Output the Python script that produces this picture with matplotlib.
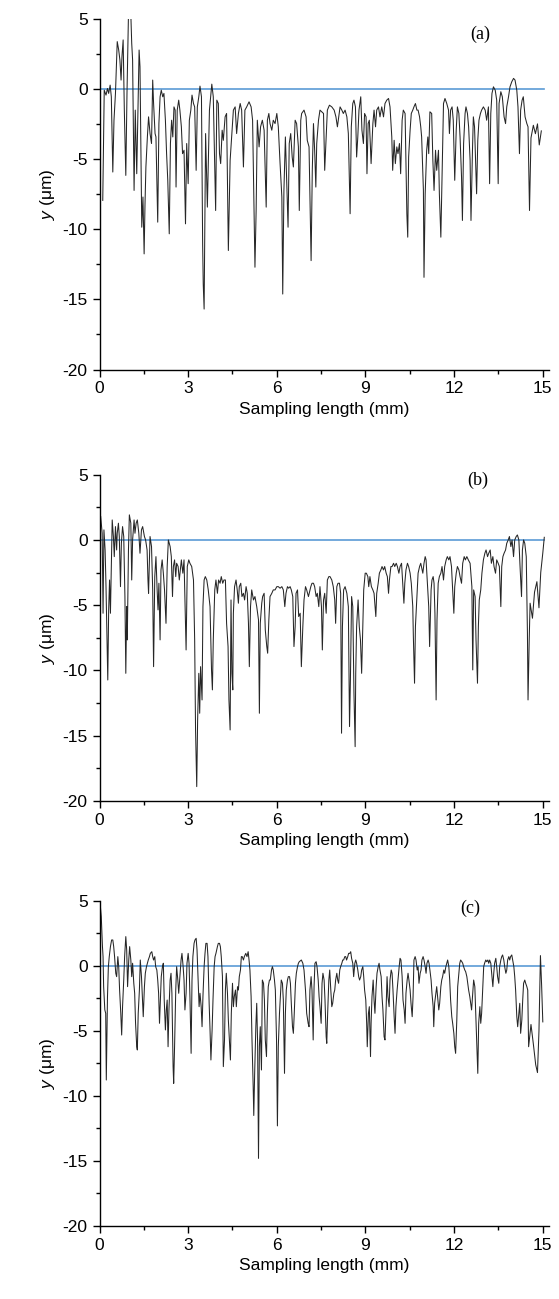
import matplotlib
matplotlib.use('Agg')
import matplotlib.pyplot as plt
import numpy as np
from matplotlib.ticker import MultipleLocator

plt.rcParams['font.family'] = ['Liberation Sans', 'DejaVu Sans']
plt.rcParams['mathtext.fontset'] = 'custom'
plt.rcParams['mathtext.it'] = 'Liberation Sans:italic'
plt.rcParams['mathtext.rm'] = 'Liberation Sans'
plt.rcParams['axes.unicode_minus'] = False

# profile (a): (sampling length mm, height um)
prof_a = [
    (0.11, -7.95), (0.16, -0.10), (0.22, -0.45), (0.27, 0.02), (0.31, -0.33), (0.36, 0.26), (0.40, -0.57),
    (0.45, -5.93), (0.49, -2.24), (0.54, -0.33), (0.60, 3.36), (0.65, 2.76), (0.69, 2.05), (0.73, 0.62),
    (0.76, 2.29), (0.80, 3.48), (0.84, -1.52), (0.89, -6.17), (0.93, -0.33), (0.98, 5.3), (1.02, 5.3),
    (1.06, 5.3), (1.09, 3.24), (1.12, 2.05), (1.17, -7.24), (1.21, -1.52), (1.26, -6.05), (1.34, 2.76),
    (1.37, 1.57), (1.43, -9.86), (1.47, -7.71), (1.51, -11.76), (1.54, -8.19), (1.57, -5.57), (1.62, -3.43),
    (1.66, -2.00), (1.71, -3.19), (1.76, -3.90), (1.80, 0.62), (1.83, -1.05), (1.88, -3.19), (1.91, -3.43),
    (1.97, -9.50), (2.01, -2.48), (2.05, -0.57), (2.09, -0.10), (2.14, -0.57), (2.18, -0.33), (2.23, -2.24),
    (2.27, -4.62), (2.31, -6.52), (2.36, -10.33), (2.40, -3.90), (2.44, -2.24), (2.48, -3.43), (2.52, -1.29),
    (2.56, -1.52), (2.59, -7.00), (2.63, -1.52), (2.68, -0.81), (2.72, -1.52), (2.77, -2.71), (2.81, -4.62),
    (2.86, -4.38), (2.91, -9.62), (2.95, -3.90), (3.00, -6.76), (3.04, -2.24), (3.09, -1.52), (3.13, -0.45),
    (3.18, -1.05), (3.22, -1.29), (3.27, -5.81), (3.31, -1.29), (3.36, -0.57), (3.40, 0.19), (3.45, -0.57),
    (3.49, -11.05), (3.51, -13.90), (3.54, -15.69), (3.59, -3.19), (3.65, -8.43), (3.72, -1.52), (3.80, 0.33),
    (3.85, -0.57), (3.93, -8.67), (3.97, -0.81), (4.02, -1.05), (4.06, -4.62), (4.10, -5.33), (4.15, -2.95),
    (4.19, -3.67), (4.25, -2.00), (4.30, -1.76), (4.36, -11.52), (4.42, -5.10), (4.47, -3.43), (4.53, -1.52),
    (4.59, -1.29), (4.64, -3.19), (4.70, -1.76), (4.76, -1.05), (4.81, -1.52), (4.87, -5.57), (4.92, -1.52),
    (4.98, -1.29), (5.06, -0.93), (5.13, -1.29), (5.18, -2.24), (5.23, -8.67), (5.26, -12.71), (5.30, -8.67),
    (5.34, -2.24), (5.40, -4.14), (5.45, -2.71), (5.51, -2.24), (5.57, -2.95), (5.64, -8.43), (5.68, -2.24),
    (5.73, -1.76), (5.77, -2.48), (5.83, -2.95), (5.88, -2.24), (5.94, -2.48), (6.00, -1.76), (6.05, -2.71),
    (6.11, -5.33), (6.17, -7.71), (6.20, -14.62), (6.24, -7.24), (6.29, -3.43), (6.33, -6.29), (6.38, -9.86),
    (6.42, -3.90), (6.47, -3.19), (6.52, -4.86), (6.56, -5.57), (6.62, -2.24), (6.67, -2.48), (6.73, -4.14),
    (6.76, -8.67), (6.81, -2.24), (6.84, -1.76), (6.92, -1.52), (6.99, -2.00), (7.03, -3.67), (7.09, -4.14),
    (7.16, -12.24), (7.20, -5.81), (7.24, -2.48), (7.28, -4.38), (7.32, -7.00), (7.35, -3.90), (7.41, -2.24),
    (7.46, -1.52), (7.52, -1.64), (7.58, -1.76), (7.62, -5.81), (7.67, -3.43), (7.71, -1.52), (7.78, -1.17),
    (7.86, -1.29), (7.94, -1.52), (8.00, -2.00), (8.05, -2.71), (8.08, -2.24), (8.14, -1.29), (8.20, -1.52),
    (8.25, -1.76), (8.31, -1.52), (8.37, -2.00), (8.42, -3.19), (8.48, -8.90), (8.52, -2.71), (8.57, -1.05),
    (8.61, -0.81), (8.66, -1.29), (8.70, -4.86), (8.74, -3.43), (8.78, -1.52), (8.84, -0.57), (8.88, -2.95),
    (8.93, -3.90), (8.97, -1.76), (9.02, -2.00), (9.05, -6.05), (9.09, -2.48), (9.13, -2.24), (9.19, -5.33),
    (9.25, -2.48), (9.29, -1.52), (9.34, -2.71), (9.38, -1.52), (9.44, -1.29), (9.49, -2.00), (9.55, -1.29),
    (9.61, -2.00), (9.66, -1.05), (9.72, -0.81), (9.78, -0.69), (9.83, -1.29), (9.89, -3.43), (9.92, -5.81),
    (9.97, -3.67), (10.01, -5.33), (10.06, -4.14), (10.10, -4.62), (10.15, -3.90), (10.19, -6.05),
    (10.24, -2.24), (10.28, -1.52), (10.34, -1.76), (10.40, -8.90), (10.43, -10.57), (10.46, -4.86),
    (10.51, -2.95), (10.55, -1.76), (10.60, -1.52), (10.64, -1.29), (10.69, -1.05), (10.74, -1.52),
    (10.78, -1.52), (10.83, -2.00), (10.87, -2.71), (10.90, -3.43), (10.96, -7.24), (10.98, -13.43),
    (11.02, -7.48), (11.07, -4.38), (11.11, -3.43), (11.14, -4.62), (11.18, -1.64), (11.24, -1.76),
    (11.28, -5.10), (11.32, -7.24), (11.37, -4.38), (11.41, -5.81), (11.47, -4.38), (11.50, -7.48),
    (11.55, -10.57), (11.59, -6.29), (11.64, -1.05), (11.69, -0.69), (11.75, -1.05), (11.81, -1.52),
    (11.84, -3.19), (11.88, -1.52), (11.93, -1.29), (11.97, -2.24), (12.02, -6.52), (12.07, -2.95),
    (12.11, -1.29), (12.16, -1.76), (12.20, -3.43), (12.25, -6.29), (12.28, -9.38), (12.32, -3.90),
    (12.37, -1.76), (12.40, -1.29), (12.45, -1.76), (12.49, -2.71), (12.54, -5.10), (12.57, -9.38),
    (12.62, -4.38), (12.65, -2.00), (12.69, -2.71), (12.73, -5.57), (12.76, -7.48), (12.80, -3.67),
    (12.84, -2.24), (12.89, -1.76), (12.93, -1.52), (12.99, -1.29), (13.05, -1.52), (13.10, -2.24),
    (13.16, -1.29), (13.20, -6.76), (13.24, -1.76), (13.28, -0.33), (13.33, 0.14), (13.39, -0.10),
    (13.44, -0.81), (13.49, -6.76), (13.52, -1.05), (13.58, -0.21), (13.63, -0.57), (13.69, -2.00),
    (13.74, -2.48), (13.78, -1.29), (13.84, -0.57), (13.89, 0.14), (13.95, 0.50), (14.01, 0.74),
    (14.06, 0.62), (14.12, -0.10), (14.16, -1.29), (14.21, -4.62), (14.25, -1.52), (14.30, -0.81),
    (14.34, -0.57), (14.40, -2.00), (14.46, -2.48), (14.50, -2.71), (14.55, -8.67), (14.60, -3.5),
    (14.68, -2.6), (14.75, -3.2), (14.82, -2.5), (14.88, -4.0), (14.95, -3.0),
]

# profile (b)
prof_b = [
    (0.04, 1.79), (0.09, 0.51), (0.12, -5.62), (0.15, 0.77), (0.19, -0.77), (0.22, -3.58), (0.28, -10.73),
    (0.31, -5.36), (0.34, -3.07), (0.37, -5.62), (0.40, -2.04), (0.43, 1.53), (0.47, 0.26), (0.50, -1.28),
    (0.54, 1.02), (0.58, -0.77), (0.60, 0.51), (0.64, 1.28), (0.67, 0.26), (0.71, -3.58), (0.74, -0.26),
    (0.78, 1.02), (0.82, 0.26), (0.86, -4.34), (0.89, -10.22), (0.92, -5.11), (0.94, -7.66), (0.98, -0.77),
    (1.01, 1.92), (1.06, 1.28), (1.09, -3.07), (1.12, 0.00), (1.17, 1.53), (1.20, 0.51), (1.24, 1.28),
    (1.28, 1.53), (1.33, 0.51), (1.37, -1.02), (1.42, 0.77), (1.46, 1.02), (1.52, 0.26), (1.56, 0.00),
    (1.61, -0.77), (1.64, -3.07), (1.66, -4.09), (1.71, 0.26), (1.76, -0.51), (1.80, -3.83), (1.83, -9.71),
    (1.87, -2.81), (1.91, -1.28), (1.95, -3.83), (1.98, -5.36), (2.01, -3.32), (2.05, -7.66), (2.08, -2.30),
    (2.12, -1.53), (2.16, -2.55), (2.20, -3.83), (2.25, -6.39), (2.29, -2.04), (2.33, 0.00), (2.39, -0.51),
    (2.43, -1.28), (2.47, -4.34), (2.50, -2.04), (2.54, -1.53), (2.58, -2.81), (2.61, -1.79), (2.66, -2.04),
    (2.70, -3.07), (2.77, -1.53), (2.82, -2.55), (2.86, -1.53), (2.89, -4.34), (2.93, -8.43), (2.97, -2.04),
    (3.02, -1.53), (3.06, -1.79), (3.12, -2.04), (3.18, -3.07), (3.22, -7.66), (3.25, -14.56), (3.29, -18.90),
    (3.32, -13.79), (3.36, -10.22), (3.39, -13.28), (3.42, -9.71), (3.47, -12.26), (3.50, -5.11), (3.54, -3.07),
    (3.58, -2.81), (3.63, -3.07), (3.68, -3.83), (3.74, -5.11), (3.79, -9.96), (3.82, -11.49), (3.85, -7.66),
    (3.90, -3.83), (3.94, -3.07), (3.99, -4.09), (4.03, -3.07), (4.08, -3.32), (4.12, -2.81), (4.17, -3.32),
    (4.21, -3.07), (4.26, -3.07), (4.30, -6.39), (4.35, -8.17), (4.38, -12.26), (4.42, -14.56), (4.45, -4.60),
    (4.48, -10.22), (4.51, -11.49), (4.53, -5.62), (4.57, -3.58), (4.62, -3.07), (4.66, -3.83), (4.70, -4.85),
    (4.73, -3.58), (4.78, -3.32), (4.82, -4.34), (4.87, -4.09), (4.91, -4.60), (4.96, -3.58), (5.00, -4.09),
    (5.04, -6.39), (5.07, -9.71), (5.11, -5.11), (5.15, -3.83), (5.21, -4.60), (5.26, -4.34), (5.32, -5.11),
    (5.38, -6.13), (5.41, -13.28), (5.44, -6.39), (5.49, -4.85), (5.52, -4.34), (5.57, -4.09), (5.61, -6.90),
    (5.66, -8.17), (5.69, -8.68), (5.73, -6.13), (5.77, -4.34), (5.83, -4.09), (5.88, -3.83), (5.94, -3.83),
    (6.00, -3.58), (6.05, -3.58), (6.11, -3.70), (6.17, -3.58), (6.22, -3.83), (6.27, -5.11), (6.31, -4.09),
    (6.36, -3.58), (6.40, -3.70), (6.45, -3.58), (6.49, -3.83), (6.54, -4.34), (6.58, -8.17), (6.62, -6.64),
    (6.65, -4.09), (6.70, -3.83), (6.74, -5.87), (6.79, -5.62), (6.83, -9.71), (6.88, -6.64), (6.92, -4.60),
    (6.97, -3.58), (7.01, -3.83), (7.07, -4.34), (7.15, -3.58), (7.19, -3.32), (7.24, -3.32), (7.28, -3.58),
    (7.33, -4.34), (7.37, -4.09), (7.42, -5.11), (7.46, -3.58), (7.51, -5.11), (7.54, -8.43), (7.58, -4.60),
    (7.62, -4.09), (7.67, -5.62), (7.71, -3.07), (7.76, -2.81), (7.80, -2.81), (7.86, -3.07), (7.91, -3.58),
    (7.96, -4.60), (7.99, -6.39), (8.03, -3.58), (8.07, -3.32), (8.12, -3.32), (8.16, -4.09), (8.19, -14.81),
    (8.22, -6.64), (8.26, -3.83), (8.31, -3.58), (8.37, -4.09), (8.42, -5.11), (8.46, -14.30), (8.49, -10.73),
    (8.53, -4.34), (8.57, -5.11), (8.61, -11.75), (8.65, -15.84), (8.67, -10.22), (8.70, -6.64), (8.75, -4.60),
    (8.79, -6.64), (8.83, -7.66), (8.87, -10.22), (8.91, -6.39), (8.94, -3.83), (8.99, -2.55), (9.03, -2.55),
    (9.08, -2.81), (9.11, -3.58), (9.15, -2.81), (9.20, -3.58), (9.25, -3.83), (9.29, -4.09), (9.35, -5.87),
    (9.38, -4.09), (9.43, -3.32), (9.47, -2.55), (9.52, -2.30), (9.56, -2.04), (9.61, -2.30), (9.65, -2.04),
    (9.70, -2.55), (9.74, -2.81), (9.78, -4.09), (9.81, -3.07), (9.86, -2.04), (9.90, -2.04), (9.95, -1.79),
    (9.99, -2.04), (10.04, -1.79), (10.08, -2.04), (10.13, -2.55), (10.17, -2.04), (10.22, -1.79),
    (10.26, -3.32), (10.30, -4.85), (10.33, -3.32), (10.37, -2.30), (10.42, -1.79), (10.46, -2.04),
    (10.51, -2.55), (10.55, -3.32), (10.60, -5.11), (10.62, -7.41), (10.66, -10.98), (10.69, -6.64),
    (10.74, -4.34), (10.78, -2.55), (10.83, -2.04), (10.87, -1.79), (10.94, -2.55), (10.98, -1.79),
    (11.02, -1.28), (11.05, -1.53), (11.09, -3.07), (11.14, -5.11), (11.17, -8.17), (11.22, -3.83),
    (11.25, -3.07), (11.29, -2.81), (11.32, -3.32), (11.35, -5.62), (11.39, -12.26), (11.42, -6.13),
    (11.46, -3.32), (11.50, -2.81), (11.55, -2.55), (11.59, -2.04), (11.64, -3.07), (11.68, -2.04),
    (11.73, -1.53), (11.77, -1.28), (11.82, -1.53), (11.86, -1.28), (11.91, -2.04), (11.95, -3.83),
    (11.99, -5.62), (12.02, -3.58), (12.07, -2.55), (12.11, -2.04), (12.16, -2.30), (12.20, -2.81),
    (12.25, -3.32), (12.29, -1.79), (12.34, -1.28), (12.38, -1.53), (12.43, -1.28), (12.48, -1.53),
    (12.54, -1.79), (12.60, -3.58), (12.63, -9.96), (12.66, -3.83), (12.71, -4.34), (12.74, -7.66),
    (12.79, -10.98), (12.82, -6.64), (12.85, -4.60), (12.90, -3.83), (12.94, -2.55), (12.99, -1.53),
    (13.04, -1.02), (13.08, -0.77), (13.13, -1.28), (13.17, -1.02), (13.22, -0.77), (13.26, -1.79),
    (13.31, -1.28), (13.35, -2.04), (13.40, -2.55), (13.44, -1.53), (13.49, -1.79), (13.53, -2.04),
    (13.58, -5.11), (13.61, -2.04), (13.65, -1.28), (13.69, -1.02), (13.74, -0.77), (13.78, -0.26),
    (13.83, 0.00), (13.87, 0.26), (13.92, -0.51), (13.96, 0.00), (14.01, -1.28), (14.05, 0.00),
    (14.10, 0.26), (14.14, 0.38), (14.19, 0.00), (14.23, -2.04), (14.28, -4.34), (14.31, -0.77),
    (14.35, 0.00), (14.39, -0.26), (14.44, -1.28), (14.48, -7.15), (14.50, -12.26), (14.54, -7.66),
    (14.57, -4.85), (14.65, -6.0), (14.72, -4.0), (14.80, -3.2), (14.87, -5.2), (14.93, -2.5),
    (15.00, -1.0), (15.05, 0.2),
]

# profile (c)
prof_c = [
    (0.03, 4.56), (0.06, 3.79), (0.10, 1.49), (0.12, 0.72), (0.14, -1.59), (0.18, -3.38), (0.21, -3.64),
    (0.23, -8.77), (0.27, -2.36), (0.30, -0.05), (0.33, 0.72), (0.37, 1.49), (0.41, 2.00), (0.45, 2.00),
    (0.48, 1.49), (0.51, 0.72), (0.55, -0.56), (0.58, -0.82), (0.62, 0.72), (0.65, -0.05), (0.68, -1.85),
    (0.72, -3.64), (0.75, -5.31), (0.78, -3.13), (0.82, -1.08), (0.85, 0.72), (0.89, 2.26), (0.92, 1.23),
    (0.95, -1.59), (0.99, 0.46), (1.02, 1.49), (1.06, 0.46), (1.09, -0.82), (1.12, 0.21), (1.16, -1.33),
    (1.19, -2.10), (1.22, -4.41), (1.26, -6.21), (1.28, -6.46), (1.31, -3.64), (1.35, -1.85), (1.38, 0.46),
    (1.42, -0.82), (1.45, -2.36), (1.48, -3.90), (1.52, -1.59), (1.55, -0.56), (1.59, -0.05), (1.62, 0.21),
    (1.65, 0.46), (1.69, 0.72), (1.72, 0.97), (1.77, 1.10), (1.80, 0.72), (1.83, 0.46), (1.87, 0.72),
    (1.90, -0.05), (1.94, -0.31), (1.97, -1.08), (2.00, -2.10), (2.03, -4.41), (2.06, -2.62), (2.09, -0.82),
    (2.13, -0.05), (2.16, 0.21), (2.19, -2.62), (2.23, -4.92), (2.26, -3.38), (2.29, -2.62), (2.32, -6.21),
    (2.35, -3.38), (2.39, -1.08), (2.42, -0.56), (2.45, -2.10), (2.49, -7.74), (2.51, -9.03), (2.54, -6.21),
    (2.58, -1.85), (2.61, -0.05), (2.65, -1.08), (2.68, -2.10), (2.76, 0.46), (2.79, 0.97), (2.83, -0.05),
    (2.86, -1.08), (2.89, -3.38), (2.93, -2.10), (2.96, 0.21), (3.00, 0.97), (3.03, 0.21), (3.06, -2.36),
    (3.10, -6.72), (3.13, -1.08), (3.16, 0.72), (3.20, 1.74), (3.23, 2.00), (3.27, 2.13), (3.30, 1.23),
    (3.33, -0.56), (3.37, -3.13), (3.40, -2.10), (3.44, -3.13), (3.47, -4.67), (3.50, -2.36), (3.54, -0.05),
    (3.57, 0.97), (3.60, 1.74), (3.64, 1.74), (3.67, 0.72), (3.71, -2.87), (3.74, -4.92), (3.77, -7.23),
    (3.81, -4.92), (3.84, -2.62), (3.88, -0.05), (3.91, 0.72), (3.94, 0.97), (3.99, 1.49), (4.02, 1.74),
    (4.06, 1.74), (4.09, 1.49), (4.12, 0.72), (4.16, -0.82), (4.19, -7.74), (4.23, -5.69), (4.26, -1.85),
    (4.29, -0.56), (4.33, -2.10), (4.36, -4.15), (4.39, -5.44), (4.43, -7.23), (4.46, -3.64), (4.50, -1.33),
    (4.53, -3.13), (4.56, -2.36), (4.60, -1.85), (4.63, -3.13), (4.67, -1.59), (4.70, -1.85), (4.73, -0.82),
    (4.77, -0.31), (4.80, 0.72), (4.83, 0.72), (4.87, 0.46), (4.90, 0.72), (4.95, 0.97), (4.99, 0.72),
    (5.03, 1.10), (5.06, 0.46), (5.09, -0.31), (5.13, -2.36), (5.16, -5.69), (5.20, -9.28), (5.22, -11.5),
    (5.25, -8.26), (5.29, -4.67), (5.32, -2.87), (5.35, -5.95), (5.38, -14.8), (5.41, -6.21), (5.44, -4.67),
    (5.48, -8.00), (5.51, -1.08), (5.55, -1.33), (5.58, -2.62), (5.61, -5.69), (5.65, -6.97), (5.68, -3.64),
    (5.71, -1.59), (5.75, -1.08), (5.78, -1.08), (5.82, -0.31), (5.85, -0.05), (5.88, -0.31), (5.92, -1.08),
    (5.95, -1.85), (5.99, -5.69), (6.02, -12.3), (6.05, -6.21), (6.09, -3.64), (6.12, -2.36), (6.15, -1.08),
    (6.19, -1.33), (6.22, -2.62), (6.26, -8.26), (6.29, -3.64), (6.32, -1.85), (6.36, -1.08), (6.39, -0.82),
    (6.43, -0.82), (6.46, -1.33), (6.49, -2.87), (6.53, -4.67), (6.56, -5.18), (6.59, -3.64), (6.63, -1.33),
    (6.66, -0.56), (6.70, -0.05), (6.73, 0.21), (6.76, 0.33), (6.83, 0.46), (6.88, 0.21), (6.92, -0.31),
    (6.97, -1.85), (7.01, -3.64), (7.06, -4.41), (7.09, -4.67), (7.12, -1.85), (7.16, -0.82), (7.19, -1.85),
    (7.23, -5.69), (7.26, -1.59), (7.29, 0.21), (7.33, 0.33), (7.36, -0.05), (7.40, -1.08), (7.43, -2.36),
    (7.46, -3.13), (7.50, -4.41), (7.53, -1.33), (7.56, -0.56), (7.60, -1.08), (7.63, -2.62), (7.67, -5.44),
    (7.69, -5.95), (7.72, -3.64), (7.76, -1.08), (7.79, -0.31), (7.82, -1.59), (7.86, -3.13), (7.89, -2.87),
    (7.93, -2.10), (7.96, -1.85), (7.99, -1.08), (8.03, -0.56), (8.06, -1.08), (8.09, -1.33), (8.13, -0.31),
    (8.16, -0.05), (8.20, 0.21), (8.23, 0.46), (8.26, 0.46), (8.30, 0.72), (8.33, 0.72), (8.36, 0.46),
    (8.40, 0.72), (8.43, 0.97), (8.47, 0.97), (8.50, 1.10), (8.53, 0.59), (8.57, 0.21), (8.60, -0.82),
    (8.64, 0.21), (8.67, 0.46), (8.70, 0.21), (8.74, -0.31), (8.77, -0.82), (8.80, -1.08), (8.84, -0.82),
    (8.87, -0.31), (8.91, -0.05), (8.94, -0.82), (8.97, -1.85), (9.01, -2.62), (9.04, -4.41), (9.06, -6.21),
    (9.10, -3.64), (9.13, -3.13), (9.17, -6.97), (9.19, -4.41), (9.22, -2.36), (9.26, -1.08), (9.29, -2.62),
    (9.32, -3.64), (9.36, -1.59), (9.39, -0.56), (9.43, -0.05), (9.46, 0.21), (9.49, -0.31), (9.53, -0.82),
    (9.56, -2.36), (9.59, -3.38), (9.63, -5.44), (9.66, -5.69), (9.70, -3.13), (9.73, -0.82), (9.76, -2.36),
    (9.80, -3.13), (9.83, -1.08), (9.87, -0.31), (9.90, -0.56), (9.93, -1.85), (9.97, -3.90), (10.00, -5.18),
    (10.03, -3.13), (10.07, -1.85), (10.10, -1.08), (10.14, -0.05), (10.17, 0.59), (10.20, 0.46),
    (10.24, -0.82), (10.27, -2.62), (10.31, -3.38), (10.34, -4.41), (10.37, -2.10), (10.41, -1.08),
    (10.44, -0.56), (10.47, -1.08), (10.51, -1.85), (10.54, -2.87), (10.58, -3.90), (10.61, -2.36),
    (10.64, 0.46), (10.68, 0.72), (10.71, 0.46), (10.75, -0.31), (10.78, -0.05), (10.81, -1.33),
    (10.85, -0.56), (10.88, -0.31), (10.91, 0.46), (10.95, 0.72), (10.98, 0.46), (11.02, -0.05),
    (11.05, -0.56), (11.08, 0.21), (11.12, 0.46), (11.15, 0.21), (11.18, -0.31), (11.22, -1.08),
    (11.25, -2.10), (11.29, -3.13), (11.31, -4.67), (11.34, -2.87), (11.38, -2.10), (11.41, -1.59),
    (11.44, -2.36), (11.48, -3.38), (11.51, -2.87), (11.55, -1.59), (11.58, -1.08), (11.61, -0.82),
    (11.65, -0.31), (11.68, -0.56), (11.72, -0.05), (11.75, 0.21), (11.78, 0.46), (11.82, -0.05),
    (11.85, -1.08), (11.88, -2.62), (11.92, -3.90), (11.95, -4.41), (11.99, -5.18), (12.02, -6.21),
    (12.05, -6.72), (12.09, -4.15), (12.12, -1.59), (12.16, -0.56), (12.19, 0.21), (12.22, 0.46),
    (12.26, 0.33), (12.29, 0.21), (12.32, -0.05), (12.36, -0.31), (12.39, -0.44), (12.43, -0.82),
    (12.46, -1.33), (12.49, -1.85), (12.53, -2.36), (12.56, -2.87), (12.59, -3.38), (12.63, -2.10),
    (12.66, -1.08), (12.70, -1.59), (12.73, -3.64), (12.76, -5.69), (12.80, -8.26), (12.83, -4.41),
    (12.87, -3.13), (12.90, -4.41), (12.93, -3.64), (12.97, -1.59), (13.00, -0.05), (13.03, 0.21),
    (13.07, 0.46), (13.10, 0.33), (13.14, 0.46), (13.17, 0.21), (13.20, 0.46), (13.24, 0.21),
    (13.27, -0.56), (13.31, -1.59), (13.34, -0.56), (13.37, 0.21), (13.41, 0.59), (13.44, -0.05),
    (13.47, -0.82), (13.51, -1.33), (13.54, -0.05), (13.58, 0.46), (13.61, 0.72), (13.64, 0.85),
    (13.68, 0.46), (13.71, -0.05), (13.75, -0.56), (13.78, -0.31), (13.81, 0.46), (13.85, 0.72),
    (13.88, 0.46), (13.91, 0.72), (13.95, 0.85), (13.98, 0.46), (14.02, -0.05), (14.05, -0.82),
    (14.08, -1.85), (14.12, -3.90), (14.15, -4.67), (14.19, -3.64), (14.22, -2.87), (14.25, -5.18),
    (14.29, -4.15), (14.32, -2.62), (14.35, -1.33), (14.39, -1.08), (14.42, -1.33), (14.46, -1.59),
    (14.49, -1.85), (14.52, -6.21), (14.60, -4.5), (14.68, -6.0), (14.76, -7.6), (14.82, -8.2),
    (14.87, -5.0), (14.92, 0.8), (14.96, -1.5), (15.00, -4.3),
]

panel_tags = ['(a)', '(b)', '(c)']
tag_pos = [(12.9, 3.9), (12.8, 4.6), (12.55, 4.4)]
x_ticks = [0, 3, 6, 9, 12, 15]
y_ticks = [-20, -15, -10, -5, 0, 5]

fig = plt.figure(figsize=(5.59, 12.99), dpi=100)
boxes = [
    [0.178, 0.7155, 0.8036, 0.2702],
    [0.178, 0.3834, 0.8036, 0.2512],
    [0.178, 0.0562, 0.8036, 0.2502],
]

for prof, box, tag, pos in zip([prof_a, prof_b, prof_c], boxes, panel_tags, tag_pos):
    ax = fig.add_axes(box)
    arr = np.array(prof)
    ax.plot([0, 15.05], [0, 0], color='#5b9bd5', lw=1.2, zorder=1)
    ax.plot(arr[:, 0], arr[:, 1], color='#262626', lw=0.75, zorder=2)
    ax.set_xlim(0, 15.2)
    ax.set_ylim(-20, 5)
    ax.set_xticks(x_ticks)
    ax.set_yticks(y_ticks)
    ax.xaxis.set_minor_locator(MultipleLocator(1.5))
    ax.yaxis.set_minor_locator(MultipleLocator(2.5))
    ax.tick_params(which='major', direction='out', length=5, width=1, labelsize=12.5)
    ax.tick_params(which='minor', direction='out', length=3, width=1)
    for s in ('top', 'right'):
        ax.spines[s].set_visible(False)
    for s in ('left', 'bottom'):
        ax.spines[s].set_linewidth(1)
    ax.set_xlabel('Sampling length (mm)', fontsize=12.5, labelpad=4)
    ax.set_ylabel(r'$y$ (μm)', fontsize=12.5, labelpad=4)
    ax.text(pos[0], pos[1], tag, family=['Liberation Serif', 'DejaVu Serif'],
            fontsize=13, ha='center', va='center')

fig.savefig('out.png', dpi=100)
